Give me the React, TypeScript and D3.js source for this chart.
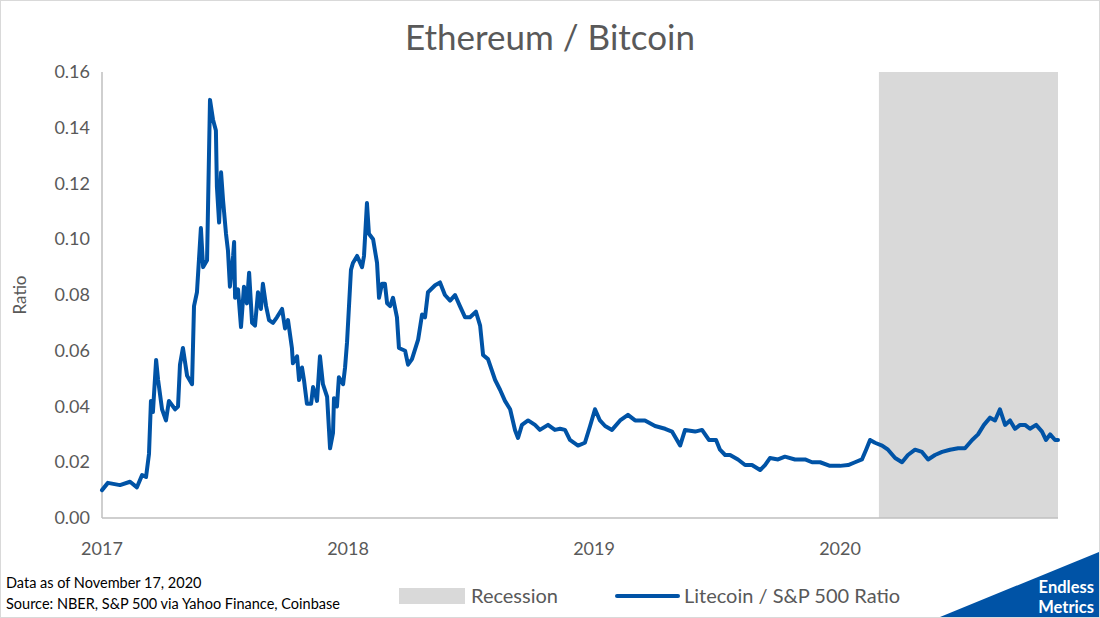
import { scaleLinear, line as d3_line } from "d3";

// decimal years since 2017-01-01
const years = [
  0, .024, .073, .114, .142, .163, .179, .191, .199, .207, .220, .228, .244, .260, .272, .297, .309, .317, .329, .346,
  .366, .374, .386, .402, .411, .427, .439, .451, .463, .467, .476, .484, .492, .504, .512, .520, .533, .537, .541, .553,
  .565, .577, .589, .598, .610, .622, .634, .646, .654, .667, .679, .695, .711, .732, .744, .756, .772, .776, .793, .801,
  .813, .821, .833, .850, .858, .870, .874, .886, .898, .915, .927, .939, .943, .955, .963, .980, .988, .996, 1.012, 1.020,
  1.037, 1.057, 1.065, 1.077, 1.085, 1.102, 1.118, 1.126, 1.138, 1.150, 1.159, 1.171, 1.183, 1.199, 1.207,
  1.232, 1.244, 1.260, 1.285, 1.301, 1.313, 1.325, 1.354, 1.374, 1.394, 1.415, 1.435, 1.455, 1.476, 1.496, 1.520, 1.537,
  1.549, 1.569, 1.598, 1.618, 1.638, 1.659, 1.679, 1.691, 1.707, 1.732, 1.760, 1.780, 1.813, 1.841, 1.862, 1.882, 1.902,
  1.935, 1.963, 1.984, 2.004, 2.024, 2.045, 2.073, 2.106, 2.138, 2.167, 2.207, 2.248, 2.289, 2.317, 2.350, 2.370, 2.411,
  2.439, 2.467, 2.496, 2.512, 2.533, 2.553, 2.585, 2.614, 2.642, 2.675, 2.695, 2.715, 2.748, 2.776, 2.817, 2.858, 2.886,
  2.919, 2.959, 3.000, 3.033, 3.061, 3.089, 3.106, 3.122, 3.142, 3.171, 3.195, 3.224, 3.252, 3.276, 3.305, 3.333, 3.358,
  3.386, 3.415, 3.447, 3.480, 3.508, 3.537, 3.561, 3.585, 3.610, 3.630, 3.650, 3.671, 3.691, 3.711, 3.732, 3.752, 3.772,
  3.797, 3.821, 3.837, 3.854, 3.874, 3.886,
];

const ratio = [
  .010, .0126, .0118, .013, .011, .0154, .0147, .023, .042, .038, .0567, .0495, .039, .035, .042, .039, .040, .055, .061, .051,
  .048, .076, .081, .104, .090, .0925, .150, .143, .139, .119, .106, .124, .114, .102, .096, .083, .094, .099, .079, .082,
  .0685, .083, .077, .088, .070, .069, .081, .075, .084, .076, .071, .070, .072, .075, .068, .071, .061, .0555, .058, .0495,
  .054, .0495, .041, .041, .047, .0435, .042, .058, .048, .0435, .025, .0305, .043, .040, .0505, .048, .054, .063, .089, .0915,
  .094, .090, .094, .113, .102, .100, .0915, .079, .084, .084, .077, .076, .079, .072, .061,
  .060, .055, .057, .064, .073, .072, .081, .0835, .0845, .080, .078, .080, .076, .072, .072, .074, .069,
  .0585, .057, .0495, .046, .042, .039, .0315, .0287, .0334, .035, .0334, .0316, .0334, .0316, .032, .0316, .028,
  .026, .027, .033, .039, .035, .033, .0316, .035, .037, .035, .035, .033, .032, .031, .026, .0316, .031,
  .0316, .028, .028, .0245, .0226, .0226, .021, .019, .019, .0172, .019, .0215, .021, .022, .021, .021, .020,
  .020, .0187, .0187, .019, .020, .021, .0245, .028, .027, .026, .0245, .0215, .020, .0226, .0245, .0237, .021,
  .0226, .0237, .0245, .025, .025, .028, .030, .0334, .036, .035, .039, .0334, .035, .032, .0334, .0334, .032,
  .0334, .031, .028, .030, .028, .028,
];

const yTicks = [0, 0.02, 0.04, 0.06, 0.08, 0.1, 0.12, 0.14, 0.16];
const xTicks = [2017, 2018, 2019, 2020];
const recessionStart = 2017 + 3.158;
const endYear = 2017 + 3.886;

const font = "Lato, 'Noto Sans', sans-serif";
const gray = "#595959";
const blue = "#0053A6";

export default function App() {
  const x = scaleLinear().domain([2017, endYear]).range([102, 1058]);
  const y = scaleLinear().domain([0, 0.16]).range([518, 72]);
  const pts = years.map((t, i) => [2017 + t, ratio[i]] as [number, number]);
  const d = d3_line<[number, number]>()
    .x((p) => x(p[0]))
    .y((p) => y(p[1]))(pts);

  return (
    <svg width={1100} height={618} style={{ display: "block", position: "absolute", left: 0, top: 0 }} fontFamily={font}>
      <rect x={0.5} y={0.5} width={1099} height={617} fill="#fff" stroke="#d9d9d9" />
      <text x={550} y={50} textAnchor="middle" fontSize={35} fill={gray}>Ethereum / Bitcoin</text>

      <rect x={x(recessionStart)} y={y(0.16)} width={x(endYear) - x(recessionStart)} height={y(0) - y(0.16)} fill="#d9d9d9" />

      {yTicks.map((v) => (
        <text key={v} x={90} y={y(v) + 6} textAnchor="end" fontSize={18} fill={gray}>{v.toFixed(2)}</text>
      ))}
      {xTicks.map((v) => (
        <text key={v} x={x(v)} y={555} textAnchor="middle" fontSize={18} fill={gray}>{v}</text>
      ))}
      <text transform="translate(26,295) rotate(-90)" textAnchor="middle" fontSize={17} fill={gray}>Ratio</text>

      <line x1={102} x2={102} y1={72} y2={518} stroke="#bfbfbf" strokeWidth={1.5} />
      <line x1={102} x2={1058} y1={518} y2={518} stroke="#bfbfbf" strokeWidth={1.5} />

      <path d={d ?? ""} fill="none" stroke={blue} strokeWidth={4} strokeLinejoin="round" strokeLinecap="round" />

      <text x={6} y={588} fontSize={14.5} fill="#000">Data as of November 17, 2020</text>
      <text x={6} y={609} fontSize={14.5} fill="#000">Source: NBER, S&amp;P 500 via Yahoo Finance, Coinbase</text>

      <rect x={399} y={588} width={66} height={16} fill="#d9d9d9" />
      <text x={471} y={603} fontSize={20} fill={gray}>Recession</text>
      <line x1={617} x2={678} y1={596} y2={596} stroke={blue} strokeWidth={4} strokeLinecap="round" />
      <text x={684} y={603} fontSize={20} fill={gray}>Litecoin / S&amp;P 500 Ratio</text>

      <polygon points="940,617 1099,552 1099,617" fill={blue} />
      <text x={1094} y={593} textAnchor="end" fontSize={16.5} fontWeight="bold" fill="#fff">Endless</text>
      <text x={1094} y={613} textAnchor="end" fontSize={16.5} fontWeight="bold" fill="#fff">Metrics</text>
    </svg>
  );
}
